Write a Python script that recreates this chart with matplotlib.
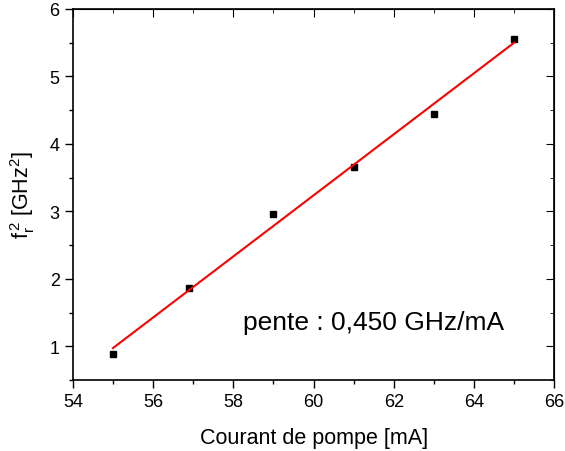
import numpy as np
import matplotlib
matplotlib.use('Agg')
import matplotlib.pyplot as plt
from matplotlib.ticker import MultipleLocator

plt.rcParams['font.family'] = ['Liberation Sans', 'DejaVu Sans']
plt.rcParams['mathtext.fontset'] = 'custom'
plt.rcParams['mathtext.rm'] = 'Liberation Sans'
plt.rcParams['mathtext.it'] = 'Liberation Sans'

# Données mesurées
courant = [55.0, 56.9, 59.0, 61.0, 63.0, 65.0]
fr2 = [0.89, 1.86, 2.96, 3.66, 4.45, 5.56]

# Ajustement linéaire
pente, origine = np.polyfit(courant, fr2, 1)
x_fit = np.array([courant[0], courant[-1]])
y_fit = pente * x_fit + origine

fig = plt.figure(figsize=(5.65, 4.52), dpi=100)
ax = fig.add_axes([0.129, 0.157, 0.852, 0.821])

ax.plot(courant, fr2, 's', color='black', markersize=4)
ax.plot(x_fit, y_fit, '-', color='red', linewidth=1.5)

ax.set_xlim(54, 66)
ax.set_ylim(0.5, 6)
ax.xaxis.set_major_locator(MultipleLocator(2))
ax.xaxis.set_minor_locator(MultipleLocator(1))
ax.yaxis.set_major_locator(MultipleLocator(1))
ax.yaxis.set_minor_locator(MultipleLocator(0.5))

ax.tick_params(which='both', direction='out', top=False, right=False, labelsize=13, width=1)
ax.tick_params(which='major', length=6)
ax.tick_params(which='minor', length=3)

# Graduations intérieures en haut et à droite
ax_top = ax.secondary_xaxis('top')
ax_top.xaxis.set_major_locator(MultipleLocator(2))
ax_top.xaxis.set_minor_locator(MultipleLocator(1))
ax_top.tick_params(which='both', direction='in', labeltop=False)
ax_top.tick_params(which='major', length=6)
ax_top.tick_params(which='minor', length=3)
ax_right = ax.secondary_yaxis('right')
ax_right.yaxis.set_major_locator(MultipleLocator(1))
ax_right.yaxis.set_minor_locator(MultipleLocator(0.5))
ax_right.tick_params(which='both', direction='in', labelright=False)
ax_right.tick_params(which='major', length=6)
ax_right.tick_params(which='minor', length=3)

for s in ax.spines.values():
    s.set_linewidth(1.2)

ax.set_xlabel('Courant de pompe [mA]', fontsize=15.5, labelpad=12)
ax.set_ylabel(r'$\mathregular{f_r^{\,2}}$ [GHz$\mathregular{^2}$]', fontsize=15.5, labelpad=9)

ax.text(58.25, 1.36, 'pente : 0,450 GHz/mA', fontsize=19, ha='left', va='center')

fig.savefig('out.png', dpi=100)
